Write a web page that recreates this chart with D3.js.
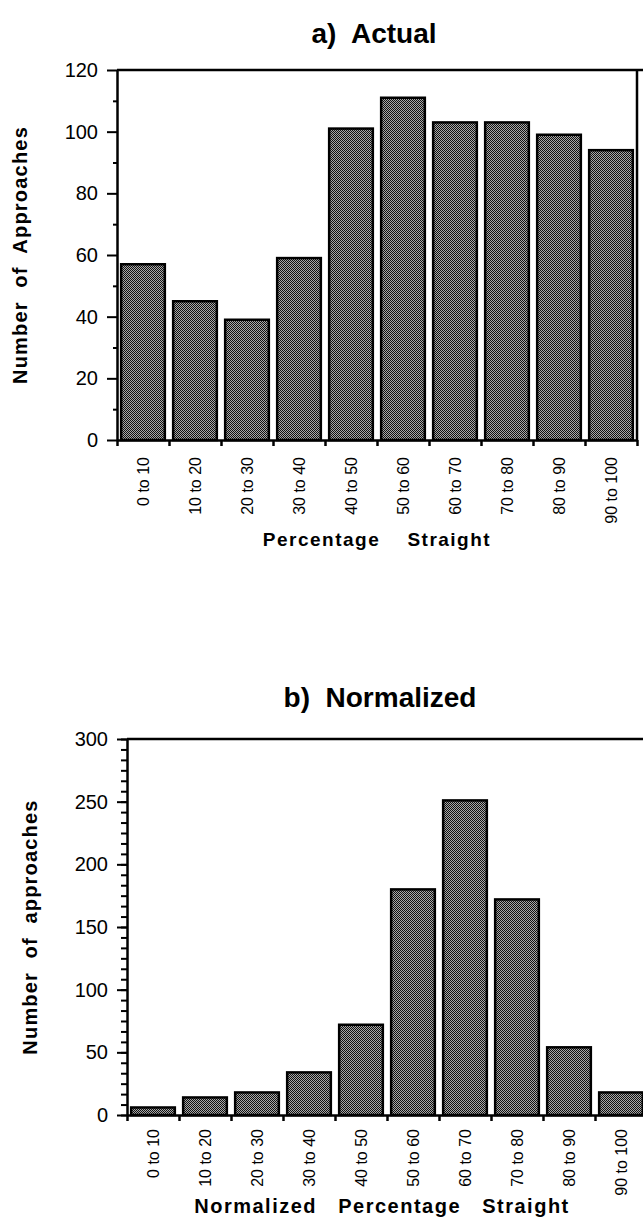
<!DOCTYPE html>
<html lang="en">
<head>
<meta charset="UTF-8">
<script src="https://d3js.org/d3.v7.min.js"></script>
<style>
  body { margin: 0; background: #fff; }
  text { font-family: "Liberation Sans", Arial, Helvetica, sans-serif; fill: #000; }
</style>
</head>
<body>
<script>
// bins of percentage straight
const categories = ["0 to 10", "10 to 20", "20 to 30", "30 to 40", "40 to 50",
                    "50 to 60", "60 to 70", "70 to 80", "80 to 90", "90 to 100"];
const binEdges = [0, 10, 20, 30, 40, 50, 60, 70, 80, 90, 100];

// a) actual counts
const actualCounts = [57, 45, 39, 59, 101, 111, 103, 103, 99, 94];
const actualTicks = [0, 20, 40, 60, 80, 100, 120];
const actualMinor = [10, 30, 50, 70, 90, 110];

// b) normalized counts
const normalizedCounts = [6, 14, 18, 34, 72, 180, 251, 172, 54, 18];
const normalizedTicks = [0, 50, 100, 150, 200, 250, 300];

const width = 643, height = 1218;

const svg = d3.select("body").append("svg")
  .attr("width", width)
  .attr("height", height);

// halftone fill like the scanned original
const pat = svg.append("defs").append("pattern")
  .attr("id", "dots")
  .attr("width", 2).attr("height", 2)
  .attr("patternUnits", "userSpaceOnUse");
pat.append("rect").attr("width", 2).attr("height", 2).attr("fill", "#a8a8a8");
pat.append("rect").attr("x", 0).attr("y", 0).attr("width", 1).attr("height", 1).attr("fill", "#111");
pat.append("rect").attr("x", 1).attr("y", 1).attr("width", 1).attr("height", 1).attr("fill", "#111");

function drawPanel(opt) {
  const g = svg.append("g");

  const x = d3.scaleBand()
    .domain(categories)
    .range([opt.left, opt.right])
    .paddingInner(0.16)
    .paddingOuter(0.08);

  const edge = d3.scaleLinear().domain([0, 100]).range([opt.left, opt.right]);

  const y = d3.scaleLinear()
    .domain([0, opt.max])
    .range([opt.bottom, opt.top]);

  // frame lines (top, and right when visible)
  g.append("line")
    .attr("x1", opt.left).attr("x2", opt.right + 10)
    .attr("y1", opt.top).attr("y2", opt.top)
    .attr("stroke", "#000").attr("stroke-width", 2.5);
  if (opt.right < width) {
    g.append("line")
      .attr("x1", opt.right).attr("x2", opt.right)
      .attr("y1", opt.top).attr("y2", opt.bottom)
      .attr("stroke", "#000").attr("stroke-width", 2.5);
  }

  // bars
  g.append("g").selectAll("rect")
    .data(opt.values)
    .join("rect")
    .attr("x", (d, i) => x(categories[i]))
    .attr("y", d => y(d))
    .attr("width", x.bandwidth())
    .attr("height", d => y(0) - y(d))
    .attr("fill", "url(#dots)")
    .attr("stroke", "#000")
    .attr("stroke-width", 2.5);

  // y axis
  const yAxis = g.append("g")
    .attr("transform", `translate(${opt.left},0)`)
    .call(d3.axisLeft(y).tickValues(opt.ticks).tickSize(10).tickSizeOuter(0).tickPadding(9));
  yAxis.select(".domain").attr("stroke-width", 2.5);
  yAxis.selectAll(".tick line").attr("stroke-width", 2);
  yAxis.selectAll(".tick text").style("font-size", "20px");

  const yMinor = g.append("g")
    .attr("transform", `translate(${opt.left},0)`)
    .call(d3.axisLeft(y).tickValues(opt.minor).tickSize(opt.minorSize).tickFormat(""));
  yMinor.select(".domain").remove();
  yMinor.selectAll(".tick line").attr("stroke-width", 2);

  // x axis: ticks on bin boundaries
  const xAxis = g.append("g")
    .attr("transform", `translate(0,${opt.bottom})`)
    .call(d3.axisBottom(edge).tickValues(binEdges).tickSize(6).tickSizeOuter(0).tickFormat(""));
  xAxis.select(".domain").attr("stroke-width", 2.5);
  xAxis.selectAll(".tick line").attr("stroke-width", 2.5);

  // category labels, rotated
  g.append("g").selectAll("text")
    .data(categories)
    .join("text")
    .attr("transform", d => `translate(${x(d) + x.bandwidth() / 2 + 6},${opt.bottom + opt.labelGap}) rotate(-90)`)
    .attr("text-anchor", "end")
    .style("font-size", "16px")
    .text(d => d);

  // titles
  g.append("text")
    .attr("x", opt.titleX).attr("y", opt.titleY)
    .attr("text-anchor", "middle")
    .style("font-size", "28px").style("font-weight", "bold")
    .style("white-space", "pre")
    .text(opt.title);

  g.append("text")
    .attr("x", (opt.left + Math.min(opt.right, 637)) / 2).attr("y", opt.xTitleY)
    .attr("text-anchor", "middle")
    .style("font-size", opt.xTitleSize).style("font-weight", "bold")
    .style("letter-spacing", "1.5px")
    .style("white-space", "pre")
    .text(opt.xTitle);

  g.append("text")
    .attr("transform", `translate(${opt.yTitleX},${(opt.top + opt.bottom) / 2}) rotate(-90)`)
    .attr("text-anchor", "middle")
    .style("font-size", "20px").style("font-weight", "bold")
    .style("letter-spacing", "1.2px")
    .style("white-space", "pre")
    .text(opt.yTitle);
}

drawPanel({
  values: actualCounts, ticks: actualTicks, minor: actualMinor, minorSize: 4, max: 120,
  left: 117, right: 637, top: 70, bottom: 440, labelGap: 17,
  title: "a)  Actual", titleX: 374, titleY: 43,
  xTitle: "Percentage    Straight", xTitleY: 546, xTitleSize: "19px",
  yTitle: "Number  of  Approaches", yTitleX: 27
});

drawPanel({
  values: normalizedCounts, ticks: normalizedTicks, minor: d3.range(0, 301, 50 / 6), minorSize: 6, max: 300,
  left: 127, right: 647, top: 739, bottom: 1115, labelGap: 14,
  title: "b)  Normalized", titleX: 380, titleY: 707,
  xTitle: "Normalized   Percentage   Straight", xTitleY: 1213, xTitleSize: "20px",
  yTitle: "Number  of  approaches", yTitleX: 37
});
</script>
</body>
</html>
